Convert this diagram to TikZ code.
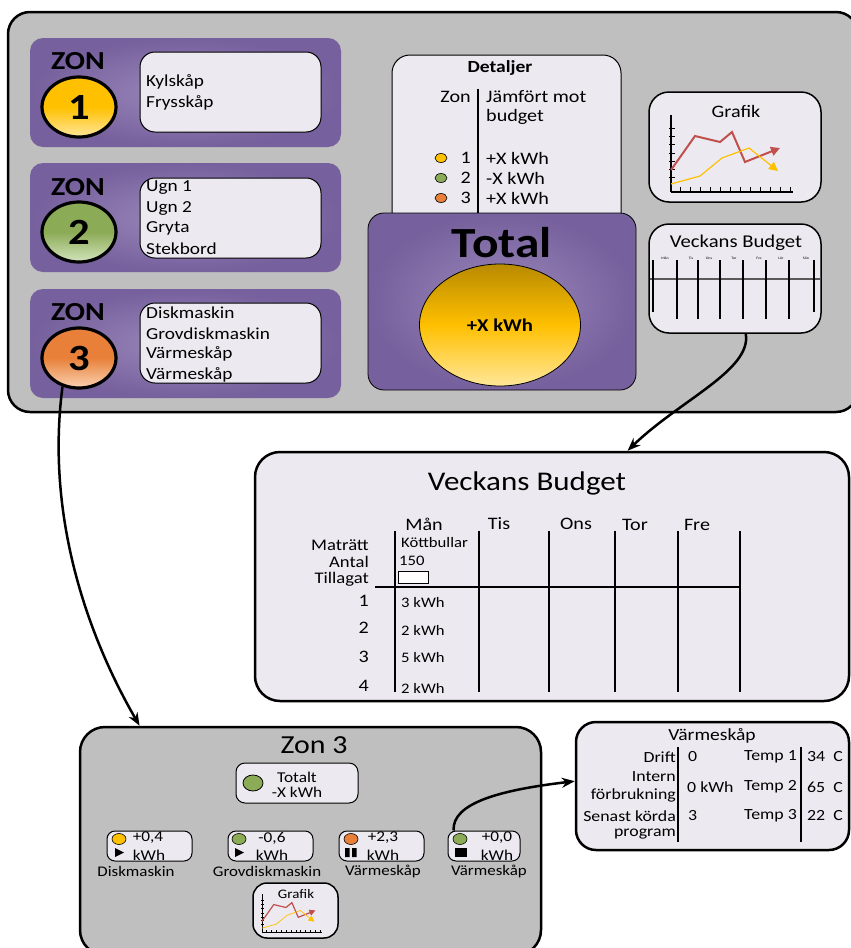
\documentclass[tikz,border=0pt]{standalone}
\usepackage{fontspec}
\setmainfont{Carlito}[FakeStretch=1.15]
\usetikzlibrary{shapes.geometric,arrows.meta}
\definecolor{pgray}{HTML}{BFBFBF}
\definecolor{lbox}{HTML}{ECEAF0}
\definecolor{purpin}{HTML}{9B88BA}
\definecolor{purpout}{HTML}{76609D}
\definecolor{ylwA}{HTML}{FFC000}
\definecolor{ylwB}{HTML}{FFE79A}
\definecolor{grnA}{HTML}{8CAB56}
\definecolor{grnB}{HTML}{D3E4BC}
\definecolor{orgA}{HTML}{E8803A}
\definecolor{orgB}{HTML}{FBD2B2}
\definecolor{goldA}{HTML}{B88A00}
\definecolor{redl}{HTML}{C0504D}
\newcommand\myfs[1]{\fontsize{#1}{#1}\selectfont}
\newcommand\minichart[5]{%
\begin{scope}[shift={(#1,#2)},scale=#3]
\draw[line width=#4*0.6pt] (0,0) -- (0,-77) (0,0) -- (122,0);
\foreach \t in {-15,-23,-31,-39,-48,-56,-64} \draw[line width=#4*0.5pt] (-2,\t) -- (4,\t);
\foreach \t in {9,19,...,119} \draw[line width=#4*0.5pt] (\t,0) -- (\t,-5);
\draw[redl, line width=#4*1pt, -{Triangle[length=#5,width=#5]}] (0,-22) -- (24,-56) -- (49,-50) -- (61,-60) -- (74,-30) -- (109,-44);
\draw[ylwA, line width=#4*0.6pt, -{Triangle[length=#5,width=#5]}] (0,-8) -- (29,-16) -- (51,-34) -- (78,-44) -- (107,-21);
\end{scope}}
\tikzset{
bigpanel/.style={rectangle, draw=black, line width=2.5pt, fill=pgray, rounded corners=22pt, inner sep=0pt},
zonepanel/.style={rectangle, rounded corners=13pt, inner color=purpin, outer color=purpout, inner sep=0pt, minimum width=311pt, minimum height=109pt},
lightbox/.style={rectangle, draw=black, line width=1pt, fill=lbox, rounded corners=15pt, inner sep=0pt},
heavybox/.style={lightbox, line width=2.5pt, rounded corners=22pt},
zball/.style={ellipse, draw=black, line width=3.2pt, minimum width=74pt, minimum height=60pt, inner sep=0pt, font=\myfs{37}\bfseries},
lbl/.style={inner sep=0pt},
lt/.style={lbl, anchor=west},
rt/.style={lbl, anchor=east},
zdot/.style={ellipse, draw=black, line width=0.6pt, minimum width=12pt, minimum height=9pt, inner sep=0pt},
conn/.style={line width=2.5pt, -{Stealth[length=13pt,width=10pt]}},
tabrule/.style={line width=1.2pt},
}
\begin{document}
\begin{tikzpicture}[x=1pt,y=-1pt]
\useasboundingbox (0,0) rectangle (851,948);
\clip (0,0) rectangle (851,948);
\fill[white] (0,0) rectangle (851,948);
% ===== top panel =====
\node[bigpanel, minimum width=850pt, minimum height=400pt] (main) at (433,212) {};
\node[zonepanel] (zp1) at (185.5,92.5) {};
\node[zonepanel] (zp2) at (185.5,217.5) {};
\node[zonepanel] (zp3) at (185.5,343.5) {};
\node[lbl, font=\myfs{26}\bfseries] (zon1) at (78,61.5) {ZON};
\node[lbl, font=\myfs{26}\bfseries] (zon2) at (78,187.5) {ZON};
\node[lbl, font=\myfs{26}\bfseries] (zon3) at (78,312.5) {ZON};
\node[zball, top color=ylwA, bottom color=ylwB, middle color=ylwA] (b1) at (79,107) {1};
\node[zball, top color=grnA, bottom color=grnB, middle color=grnA] (b2) at (79,232) {2};
\node[zball, top color=orgA, bottom color=orgB, middle color=orgA] (b3) at (79,358) {3};
\node[lightbox, minimum width=181pt, minimum height=80pt] (lb1) at (230.5,92) {};
\node[lightbox, minimum width=181pt, minimum height=80pt] (lb2) at (230.5,218) {};
\node[lightbox, minimum width=181pt, minimum height=80pt] (lb3) at (230.5,343) {};
\begin{scope}[every node/.style={lt, font=\myfs{16.8}}]
\node (t11) at (146,82) {Kylskåp};
\node (t12) at (146,103) {Frysskåp};
\node (t21) at (146,188) {Ugn 1};
\node (t22) at (146,208) {Ugn 2};
\node (t23) at (146,228) {Gryta};
\node (t24) at (146,249) {Stekbord};
\node (t31) at (146,313) {Diskmaskin};
\node (t32) at (146,334) {Grovdiskmaskin};
\node (t33) at (146,354) {Värmeskåp};
\node (t34) at (146,375) {Värmeskåp};
\end{scope}
% Detaljer
\node[lightbox, rounded corners=18pt, minimum width=229pt, minimum height=190pt] (det) at (506.5,150) {};
\node[lbl, font=\myfs{17}\bfseries] (dett) at (500,68) {Detaljer};
\draw[tabrule] (478,89) -- (478,213);
\begin{scope}[every node/.append style={font=\myfs{17.5}}]
\node[rt] (dz) at (471,97) {Zon};
\node[lt] (dj) at (486,97) {Jämfört mot};
\node[lt] (db) at (486,117) {budget};
\node[rt] (dn1) at (471,158) {1};
\node[rt] (dn2) at (471,178) {2};
\node[rt] (dn3) at (471,198) {3};
\node[lt] (dv1) at (486,158) {+X kWh};
\node[lt] (dv2) at (486,178) {-X kWh};
\node[lt] (dv3) at (486,198) {+X kWh};
\end{scope}
\node[zdot, fill=ylwA] (dd1) at (441,158) {};
\node[zdot, fill=grnA] (dd2) at (441,178) {};
\node[zdot, fill=orgA] (dd3) at (441,198) {};
% Total
\node[rectangle, draw=black, line width=0.8pt, rounded corners=16pt, inner color=purpin, outer color=purpout, minimum width=268pt, minimum height=177pt, inner sep=0pt] (tot) at (502,301.5) {};
\node[lbl, font=\myfs{43}\bfseries] (tott) at (502,243) {Total};
\node[ellipse, draw=black, line width=0.8pt, minimum width=161pt, minimum height=122pt, top color=goldA, bottom color=ylwB, middle color=ylwA, font=\myfs{18}\bfseries, inner sep=0pt] (totval) at (500,325) {+X kWh};
% Grafik
\node[lightbox, rounded corners=20pt, line width=1.5pt, minimum width=172pt, minimum height=110pt] (graf) at (735,147) {};
\node[lbl, font=\myfs{17.5}] (graft) at (736,111) {Grafik};
\minichart{671}{192}{1}{2}{9pt}
% small weekly budget
\node[lightbox, rounded corners=20pt, line width=1.5pt, minimum width=172pt, minimum height=109pt] (vbs) at (735,278.5) {};
\node[lbl, font=\myfs{18}] (vbst) at (736,243) {Veckans Budget};
\draw[line width=1.5pt, black!65] (650,279) -- (820,279);
\foreach \x in {677,698,720,743,766,789} \draw[line width=1.3pt] (\x,260) -- (\x,319);
\draw[line width=1.3pt] (653,260) -- (653,312) (814,260) -- (814,312);
\begin{scope}[every node/.style={lbl, font=\myfs{3.5}}]
\node at (665,258) {Mån};
\node at (691,258) {Tis};
\node at (709,258) {Ons};
\node at (734,258) {Tor};
\node at (759,258) {Fre};
\node at (781,258) {Lör};
\node at (806,258) {Sön};
\end{scope}
% ===== big weekly budget =====
\node[heavybox, rounded corners=25pt, minimum width=594pt, minimum height=249pt] (vbb) at (552,576.5) {};
\node[lbl, font=\myfs{27}] (vbbt) at (527,483) {Veckans Budget};
\foreach \x in {395,479,549,615,678,740} \draw[line width=1.1pt] (\x,531) -- (\x,692);
\draw[line width=1.1pt] (375,587) -- (740,587);
\begin{scope}[every node/.style={lbl, font=\myfs{17.5}}]
\node at (424,524) {Mån};
\node at (499,524) {Tis};
\node at (576,524) {Ons};
\node at (635,525) {Tor};
\node at (697,525) {Fre};
\node[rt] at (369,601) {1};
\node[rt] at (369,628) {2};
\node[rt] at (369,657) {3};
\node[rt] at (369,686) {4};
\end{scope}
\begin{scope}[every node/.style={rt, font=\myfs{16.2}}]
\node at (369,545) {Maträtt};
\node at (369,562) {Antal};
\node at (369,579.5) {Tillagat};
\end{scope}
\begin{scope}[every node/.style={lt, font=\myfs{14.5}}]
\node at (401,543) {Köttbullar};
\node at (399,561) {150};
\node at (401,603) {3 kWh};
\node at (401,630) {2 kWh};
\node at (401,658) {5 kWh};
\node at (401,688) {2 kWh};
\end{scope}
\draw[fill=white, line width=0.8pt] (398,571) rectangle (428,583);
% ===== Zon 3 panel =====
\node[bigpanel, rounded corners=25pt, minimum width=461pt, minimum height=228pt] (z3p) at (310.5,841) {};
\node[lbl, font=\myfs{26}] (z3t) at (314,745) {Zon 3};
\node[lightbox, rounded corners=9pt, minimum width=122pt, minimum height=40pt] (tbox) at (297,783) {};
\node[zdot, fill=grnA, minimum width=20pt, minimum height=16pt, line width=0.8pt] (tdot) at (253,783) {};
\node[lbl, font=\myfs{15}] (tt1) at (297,777) {Totalt};
\node[lbl, font=\myfs{15}] (tt2) at (297,792) {-X kWh};
\node[lightbox, rounded corners=8pt, minimum width=85pt, minimum height=30pt] (v1) at (149.5,846) {};
\node[lightbox, rounded corners=8pt, minimum width=85pt, minimum height=30pt] (v2) at (270.5,846) {};
\node[lightbox, rounded corners=8pt, minimum width=85pt, minimum height=30pt] (v3) at (381.5,846) {};
\node[lightbox, rounded corners=8pt, minimum width=72pt, minimum height=30pt] (v4) at (484,846) {};
\node[zdot, fill=ylwA, minimum width=14pt, minimum height=11pt] (vd1) at (119,839) {};
\node[zdot, fill=grnA, minimum width=14pt, minimum height=11pt] (vd2) at (239,839) {};
\node[zdot, fill=orgA, minimum width=14pt, minimum height=11pt] (vd3) at (351,839) {};
\node[zdot, fill=grnA, minimum width=14pt, minimum height=11pt] (vd4) at (460,839) {};
\begin{scope}[every node/.style={lbl, font=\myfs{15}}]
\node at (148,838) {+0,4};
\node at (149,855) {kWh};
\node at (272,838) {-0,6};
\node at (272,855) {kWh};
\node at (383,838) {+2,3};
\node at (383,855) {kWh};
\node at (497,838) {+0,0};
\node at (497,855) {kWh};
\end{scope}
\fill (115,848) -- (124,852.5) -- (115,857) -- cycle;
\fill (235,848) -- (244,852.5) -- (235,857) -- cycle;
\fill (345,848) rectangle (349.5,857) (352,848) rectangle (356.5,857);
\fill (455,848) rectangle (467,857);
\begin{scope}[every node/.style={lbl, font=\myfs{14.7}}]
\node at (136,871) {Diskmaskin};
\node at (267,871) {Grovdiskmaskin};
\node at (383,871) {Värmeskåp};
\node at (489,871) {Värmeskåp};
\end{scope}
\node[lightbox, line width=1.5pt, rounded corners=14pt, minimum width=85pt, minimum height=55pt] (g2) at (295.5,910.5) {};
\node[lbl, font=\myfs{13}] (g2t) at (296,894) {Grafik};
\minichart{262}{932}{0.49}{1.2}{6pt}
% ===== Värmeskåp details =====
\node[heavybox, rounded corners=20pt, minimum width=273pt, minimum height=128pt] (vbox) at (712.5,786) {};
\node[lbl, font=\myfs{17}] (vboxt) at (712,736) {Värmeskåp};
\draw[tabrule] (678,747) -- (678,842) (801,747) -- (801,842);
\begin{scope}[every node/.append style={font=\myfs{15.5}}]
\node[rt] at (676,757) {Drift};
\node[rt] at (676,777) {Intern};
\node[rt] at (676,795) {förbrukning};
\node[rt] at (676,816) {Senast körda};
\node[rt] at (676,834) {program};
\node[lt] at (688,757) {0};
\node[lt] at (687,787) {0 kWh};
\node[lt] at (688,816) {3};
\node[rt] at (797,757) {Temp 1};
\node[rt] at (797,787) {Temp 2};
\node[rt] at (797,816) {Temp 3};
\node[lt] at (807,757) {34\ \ C};
\node[lt] at (807,787) {65\ \ C};
\node[lt] at (807,816) {22\ \ C};
\end{scope}
% ===== connectors =====
\draw[conn] (b3.240) .. controls (45,520) and (90,640) .. (z3p.146);
\draw[conn] (vbs.281) .. controls (752,370) and (680,400) .. (vbb.59);
\draw[conn] (v4.153) .. controls (452,803) and (500,790) .. (vbox.178);
\end{tikzpicture}
\end{document}
